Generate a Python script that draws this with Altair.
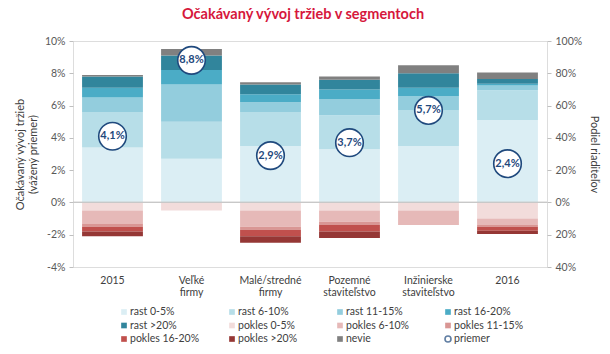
import altair as alt
import pandas as pd

# ---------------- data ----------------
categories = ["2015", "Veľké\nfirmy", "Malé/stredné\nfirmy", "Pozemné\nstaviteľstvo",
              "Inžinierske\nstaviteľstvo", "2016"]

series_names = ["rast 0-5%", "rast 6-10%", "rast 11-15%", "rast 16-20%", "rast >20%",
                "nevie", "pokles 0-5%", "pokles 6-10%", "pokles 11-15%", "pokles 16-20%",
                "pokles >20%"]

rast_0_5 = [34, 27, 35, 33, 35, 51]
rast_6_10 = [22, 23, 21, 21, 22, 18.5]
rast_11_15 = [9, 23, 6, 10, 9, 3]
rast_16_20 = [6, 9, 5, 6, 5, 1]
rast_20 = [7, 9, 6, 6, 9, 3]
nevie = [1, 4, 1.5, 2, 5, 4]
pokles_0_5 = [5, 5, 5, 5, 5, 10]
pokles_6_10 = [8, 0, 10, 7, 9, 4]
pokles_11_15 = [2, 0, 2, 2, 0, 1]
pokles_16_20 = [3, 0, 4, 4, 0, 2.5]
pokles_20 = [3, 0, 4, 4, 0, 2]

priemer = [4.1, 8.8, 2.9, 3.7, 5.7, 2.4]

share_ticks = [-40, -20, 0, 20, 40, 60, 80, 100]
avg_ticks = [-4, -2, 0, 2, 4, 6, 8, 10]

legend_labels = ["rast 0-5%", "rast 6-10%", "rast 11-15%", "rast 16-20%",
                 "rast >20%", "pokles 0-5%", "pokles 6-10%", "pokles 11-15%",
                 "pokles 16-20%", "pokles >20%", "nevie", "priemer"]

colors = ["#dbeef4", "#b7dee8", "#93cddd", "#4bacc6", "#31859c",
          "#808080", "#f2dcdb", "#e6b9b8", "#d99694", "#c0504d", "#953735"]

FONT = "Lato"
TXT = "#404040"
AX = "#595959"
BLUE = "#1f497d"

# ---------------- tables ----------------
values_by_series = [rast_0_5, rast_6_10, rast_11_15, rast_16_20, rast_20, nevie,
                    pokles_0_5, pokles_6_10, pokles_11_15, pokles_16_20, pokles_20]
rows = []
for si, (name, vals) in enumerate(zip(series_names, values_by_series)):
    sign = -1 if name.startswith("pokles") else 1
    for c, v in zip(categories, vals):
        rows.append({"category": c, "series": name, "value": sign * v, "order": si})
bars_df = pd.DataFrame(rows)

avg_df = pd.DataFrame({
    "category": categories,
    "avg": priemer,
    "label": [f"{v:.1f}".replace(".", ",") + "%" for v in priemer],
})

leg_df = pd.DataFrame({
    "label": legend_labels,
    "col": [i % 4 for i in range(len(legend_labels))],
    "row": [i // 4 for i in range(len(legend_labels))],
})

xscale = alt.Scale(domain=categories, paddingInner=0.23, paddingOuter=0.115)
color_scale = alt.Scale(domain=series_names, range=colors)
share_scale = alt.Scale(domain=[-40, 100], nice=False, zero=False)
avg_scale = alt.Scale(domain=[-4, 10], nice=False, zero=False)

right_axis = alt.Axis(orient="right", values=share_ticks,
                      labelExpr="abs(datum.value) + '%'", grid=False,
                      labelOverlap=False, labelFlush=False, labelBound=False,
                      domain=False, tickColor="#bfbfbf", tickSize=4,
                      labelFont=FONT, labelFontSize=10.5, labelColor=AX,
                      labelPadding=4, title="Podiel riaditeľov",
                      titleFont=FONT, titleFontSize=11, titleFontWeight="normal",
                      titleColor=TXT, titlePadding=7)

left_axis = alt.Axis(orient="left", values=avg_ticks,
                     labelExpr="datum.value + '%'", grid=False, domain=False,
                     labelOverlap=False, labelFlush=False, labelBound=False,
                     tickColor="#bfbfbf", tickSize=4,
                     labelFont=FONT, labelFontSize=10.5, labelColor=AX,
                     labelPadding=4,
                     title=["Očakávaný vývoj tržieb", "(vážený priemer)"],
                     titleFont=FONT, titleFontSize=11, titleFontWeight="normal",
                     titleColor=TXT, titlePadding=6, titleLineHeight=13)

bottom_axis = alt.Axis(title=None, labelAngle=0, ticks=False, domain=False,
                       labelExpr="split(datum.label, '\\n')",
                       labelFont=FONT, labelFontSize=10.5, labelColor=TXT,
                       labelPadding=8, labelLineHeight=12)

# ---------------- bars (right axis: share of directors) ----------------
bars = alt.Chart(bars_df).mark_bar().encode(
    x=alt.X("category:N", scale=xscale, sort=categories, axis=bottom_axis),
    y=alt.Y("value:Q", stack="zero", scale=share_scale, axis=right_axis),
    color=alt.Color("series:N", scale=color_scale, legend=None),
    order=alt.Order("order:Q"),
)

zero_rule = alt.Chart(avg_df).mark_rule(color="#c8c8c8", strokeWidth=1).encode(
    y=alt.YDatum(0, scale=share_scale, axis=right_axis)
)

bars_layer = alt.layer(bars, zero_rule)

# ---------------- averages (left axis) ----------------
circles = alt.Chart(avg_df).mark_point(
    shape="circle", filled=True, fill="white", stroke=BLUE, strokeWidth=1.6,
    size=760, opacity=1
).encode(
    x=alt.X("category:N", scale=xscale, sort=categories, axis=None),
    y=alt.Y("avg:Q", scale=avg_scale, axis=left_axis),
)

avg_text = alt.Chart(avg_df).mark_text(
    font=FONT, fontSize=11, fontWeight="bold", color=BLUE
).encode(
    x=alt.X("category:N", scale=xscale, sort=categories, axis=None),
    y=alt.Y("avg:Q", scale=avg_scale, axis=left_axis),
    text="label:N",
)

avg_layer = alt.layer(circles, avg_text)

# ---------------- legend ----------------
leg_x = alt.X("col:Q", scale=alt.Scale(domain=[0, 3], range=[51, 375], nice=False, zero=False), axis=None)
leg_y = alt.Y("row:Q", scale=alt.Scale(domain=[0, 2], range=[271, 298], nice=False, zero=False), axis=None)

leg_sq = alt.Chart(leg_df).transform_filter("datum.label != 'priemer'").mark_square(
    size=32, opacity=1
).encode(
    x=leg_x, y=leg_y,
    color=alt.Color("label:N", scale=color_scale, legend=None),
)

leg_circ = alt.Chart(leg_df).transform_filter("datum.label == 'priemer'").mark_point(
    shape="circle", filled=False, stroke=BLUE, strokeWidth=1.6, size=36
).encode(x=leg_x, y=leg_y)

leg_text = alt.Chart(leg_df).mark_text(
    align="left", baseline="middle", dx=6, font=FONT, fontSize=10.5, color=TXT
).encode(x=leg_x, y=leg_y, text="label:N")

legend_layer = alt.layer(leg_sq, leg_circ, leg_text)

chart = alt.layer(bars_layer, avg_layer, legend_layer).resolve_scale(
    x="independent", y="independent"
).properties(
    width=474, height=226,
    padding={"left": 73, "top": 41, "right": 63, "bottom": 87},
    autosize=alt.AutoSizeParams(type="none"),
    title=alt.Title("Očakávaný vývoj tržieb v segmentoch", font=FONT, fontSize=14.5,
                    fontWeight="bold", color="#d6173c", anchor="middle", offset=14, dx=-7),
).configure_view(stroke="#d9d9d9", strokeWidth=1).configure(background="white")

chart.save("out.html", embed_options={"renderer": "svg", "actions": False})
